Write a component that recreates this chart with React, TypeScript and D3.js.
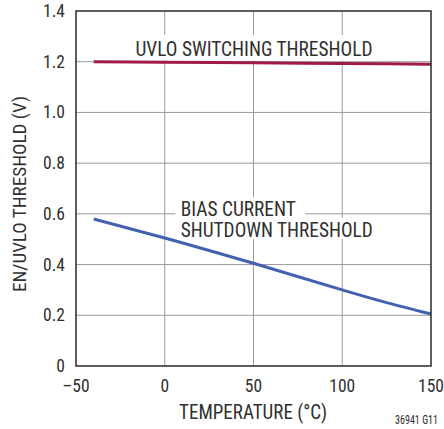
import * as d3 from 'd3'

const W = 444, H = 429
const M = { top: 11, right: 13, bottom: 63, left: 76 }

const xTicks = [-50, 0, 50, 100, 150]
const yTicks = [0, 0.2, 0.4, 0.6, 0.8, 1.0, 1.2, 1.4]

const uvloTemp = [-40, 0, 50, 100, 150]
const uvloV = [1.2, 1.198, 1.196, 1.193, 1.19]

const biasTemp = [-40, 0, 50, 100, 125, 150]
const biasV = [0.58, 0.505, 0.405, 0.3, 0.25, 0.205]

const FONT = '"Liberation Sans Narrow", "Roboto Condensed", "Liberation Sans", Arial, sans-serif'
const INK = '#303030'

export default function App() {
  const iw = W - M.left - M.right
  const ih = H - M.top - M.bottom
  const x = d3.scaleLinear().domain([-50, 150]).range([M.left, M.left + iw])
  const y = d3.scaleLinear().domain([0, 1.4]).range([M.top + ih, M.top])

  const line = d3.line<[number, number]>()
    .x(d => x(d[0]))
    .y(d => y(d[1]))
    .curve(d3.curveMonotoneX)

  const uvlo = uvloTemp.map((t, i) => [t, uvloV[i]] as [number, number])
  const bias = biasTemp.map((t, i) => [t, biasV[i]] as [number, number])

  return (
    <svg width={W} height={H} style={{ position: 'absolute', left: 0, top: 0 }} fontFamily={FONT}>
      <rect width={W} height={H} fill="#fff" />
      {/* grid */}
      {xTicks.slice(1, -1).map(t => (
        <line key={'gx' + t} x1={x(t)} x2={x(t)} y1={M.top} y2={M.top + ih} stroke="#9a9a9a" strokeWidth={1} />
      ))}
      {yTicks.slice(1, -1).map(t => (
        <line key={'gy' + t} x1={M.left} x2={M.left + iw} y1={y(t)} y2={y(t)} stroke="#9a9a9a" strokeWidth={1} />
      ))}
      {/* label backgrounds */}
      <rect x={x(-19)} y={y(1.305)} width={x(123) - x(-19)} height={y(1.205) - y(1.305)} fill="#fff" />
      <rect x={x(6)} y={y(0.665)} width={x(79) - x(6)} height={y(0.585) - y(0.665)} fill="#fff" />
      <rect x={x(6)} y={y(0.585)} width={x(119) - x(6)} height={y(0.5) - y(0.585)} fill="#fff" />
      <text x={x(-16.5)} y={y(1.222)} fontSize={19.5} textLength={237} lengthAdjust="spacingAndGlyphs" fill={INK}>UVLO SWITCHING THRESHOLD</text>
      <text x={x(9)} y={y(0.592)} fontSize={19.5} textLength={115} lengthAdjust="spacingAndGlyphs" fill={INK}>BIAS CURRENT</text>
      <text x={x(9)} y={y(0.509)} fontSize={19.5} textLength={192} lengthAdjust="spacingAndGlyphs" fill={INK}>SHUTDOWN THRESHOLD</text>
      {/* series */}
      <path d={line(uvlo) ?? ''} fill="none" stroke="#a01a44" strokeWidth={3} />
      <path d={line(bias) ?? ''} fill="none" stroke="#4262b0" strokeWidth={3} />
      {/* frame */}
      <rect x={M.left} y={M.top} width={iw} height={ih} fill="none" stroke="#2a2a2a" strokeWidth={1.5} />
      {/* ticks */}
      {yTicks.map(t => (
        <text key={'ty' + t} x={M.left - 11} y={y(t) + 6} fontSize={17.5} textAnchor="end" fill={INK}>
          {t === 0 ? '0' : t.toFixed(1)}
        </text>
      ))}
      {xTicks.map(t => (
        <text key={'tx' + t} x={x(t)} y={M.top + ih + 26} fontSize={17.5} textAnchor="middle" fill={INK}>
          {t < 0 ? '\u2013' + Math.abs(t) : String(t)}
        </text>
      ))}
      <text x={253} y={419} fontSize={19.5} textLength={148} lengthAdjust="spacingAndGlyphs" textAnchor="middle" fill={INK}>TEMPERATURE (°C)</text>
      <text transform={`translate(26,194) rotate(-90)`} fontSize={19} textLength={196} lengthAdjust="spacingAndGlyphs" textAnchor="middle" fill={INK}>
        EN/UVLO THRESHOLD (V)
      </text>
      <text x={438} y={424} fontSize={12.5} textLength={43} lengthAdjust="spacingAndGlyphs" textAnchor="end" fill={INK}>36941 G11</text>
    </svg>
  )
}
